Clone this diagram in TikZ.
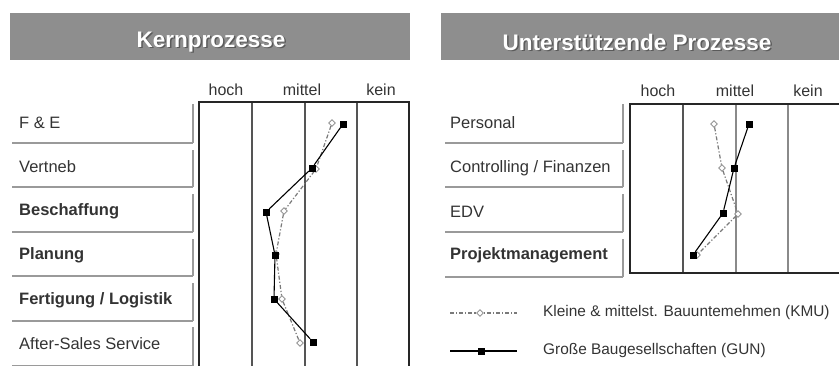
\documentclass[tikz,border=0pt]{standalone}
\usepackage{fontspec}
\setmainfont{Liberation Sans}
\usetikzlibrary{shapes.geometric}
\definecolor{hdr}{HTML}{8E8E8E}
\definecolor{hdrshadow}{HTML}{5A5A5A}
\definecolor{txt}{HTML}{333333}
\definecolor{boxline}{HTML}{9A9A9A}
\definecolor{gridin}{HTML}{555555}
\definecolor{gridlight}{HTML}{8A8A8A}
\definecolor{kmucol}{HTML}{7A7A7A}
\begin{document}
\begin{tikzpicture}[x=1pt,y=-1pt,
  hdrbar/.style={fill=hdr,draw=none},
  hdrtext/.style={text=white,font=\bfseries\fontsize{22.5}{25}\selectfont,inner sep=0},
  hdrshad/.style={text=hdrshadow,font=\bfseries\fontsize{22.5}{25}\selectfont,inner sep=0},
  collabel/.style={font=\fontsize{16}{18}\selectfont,text=txt,inner sep=0},
  rowlabel/.style={anchor=west,font=\fontsize{16.5}{19}\selectfont,text=txt,inner sep=0},
  rowbold/.style={anchor=west,font=\bfseries\fontsize{16.5}{19}\selectfont,text=txt,inner sep=0},
  legtext/.style={anchor=west,font=\fontsize{15.4}{18}\selectfont,text=txt,inner sep=0},
  boxedge/.style={draw=boxline,line width=1.6pt},
  gridout/.style={draw=black!85,line width=1.3pt},
  gridinner/.style={draw=gridin,line width=1.1pt},
  gridinlight/.style={draw=gridlight,line width=1.1pt},
  gun/.style={draw=black,fill=black,rectangle,minimum size=6pt,inner sep=0},
  kmu/.style={draw=kmucol!80,fill=white,diamond,minimum size=7pt,inner sep=0,line width=0.9pt},
  gunline/.style={draw=black,line width=1.1pt},
  kmuline/.style={draw=kmucol,line width=1.2pt,dash pattern=on 4pt off 2pt on 1.2pt off 2pt}
]
\useasboundingbox (0,0) rectangle (839,365);

% ---------- headers ----------
\fill[hdrbar] (10,13) rectangle (410,60);
\fill[hdrbar] (441,13) rectangle (839,60);
\node[hdrshad] (hk0) at (212.5,43.5) {Kernprozesse};
\node[hdrtext] (hk) at (211,42) {Kernprozesse};
\node[hdrshad] (hu0) at (638.5,43.5) {Unterstützende Prozesse};
\node[hdrtext] (hu) at (637,42) {Unterstützende Prozesse};

% ---------- left panel ----------
\node[collabel] (lc1) at (226,90) {hoch};
\node[collabel] (lc2) at (302,90) {mittel};
\node[collabel] (lc3) at (381,90) {kein};

\draw[gridinner] (252,102) -- (252,367);
\draw[gridinner] (305,102) -- (305,367);
\draw[gridinner] (357,102) -- (357,367);
\draw[gridout] (199,367) -- (199,102) -- (409,102) -- (409,367);

% row boxes
\foreach \ya/\yb in {104/143,150/187,194/232,239/276,283/321,327/366}{
  \draw[boxedge] (193,\ya) -- (193,\yb);
  \draw[boxedge] (12,\yb) -- (193,\yb);
}
\node[rowlabel] (r1) at (19,123) {F \& E};
\node[rowlabel] (r2) at (19,167) {Vertneb};
\node[rowbold]  (r3) at (19,211) {Beschaffung};
\node[rowbold]  (r4) at (19,255) {Planung};
\node[rowbold]  (r5) at (19,300) {Fertigung / Logistik};
\node[rowlabel] (r6) at (19,344) {After-Sales Service};

% KMU left
\node[kmu] (k1) at (332,123) {};
\node[kmu] (k2) at (316,169) {};
\node[kmu] (k3) at (284,211) {};
\node[kmu] (k4) at (276,254) {};
\node[kmu] (k5) at (282,299) {};
\node[kmu] (k6) at (300,343) {};
\draw[kmuline] (k1) -- (k2) -- (k3) -- (k4) -- (k5) -- (k6);

% GUN left
\node[gun] (g1) at (343,124) {};
\node[gun] (g2) at (312,168) {};
\node[gun] (g3) at (266,212) {};
\node[gun] (g4) at (275,255) {};
\node[gun] (g5) at (274,299) {};
\node[gun] (g6) at (313,342) {};
\draw[gunline] (g1) -- (g2) -- (g3) -- (g4) -- (g5) -- (g6);

% ---------- right panel ----------
\node[collabel] (rc1) at (658,91) {hoch};
\node[collabel] (rc2) at (735,91) {mittel};
\node[collabel] (rc3) at (808,91) {kein};

\draw[gridinner] (683,104) -- (683,273);
\draw[gridinlight] (736,104) -- (736,273);
\draw[gridinlight] (788,104) -- (788,273);
\draw[gridout] (842,273) -- (630,273) -- (630,104) -- (842,104);

\foreach \ya/\yb in {104/143,150/187,194/232,239/277}{
  \draw[boxedge] (623,\ya) -- (623,\yb);
  \draw[boxedge] (445,\yb) -- (623,\yb);
}
\node[rowlabel] (s1) at (450,123) {Personal};
\node[rowlabel] (s2) at (450,168) {Controlling / Finanzen};
\node[rowlabel] (s3) at (450,212) {EDV};
\node[rowbold]  (s4) at (450,255) {Projektmanagement};

% KMU right
\node[kmu] (m1) at (714,124) {};
\node[kmu] (m2) at (722,168) {};
\node[kmu] (m3) at (738,214) {};
\node[kmu] (m4) at (697,255) {};
\draw[kmuline] (m1) -- (m2) -- (m3) -- (m4);

% GUN right
\node[gun] (n1) at (749,124) {};
\node[gun] (n2) at (734,168) {};
\node[gun] (n3) at (723,213) {};
\node[gun] (n4) at (693,255) {};
\draw[gunline] (n1) -- (n2) -- (n3) -- (n4);

% ---------- legend ----------
\coordinate (la1) at (450,313);
\coordinate (lb1) at (517,313);
\draw[kmuline] (la1) -- (lb1);
\node[kmu] (lk) at (480,313) {};
\node[legtext] (lt1) at (543,313) {Kleine \& mittelst. Bauuntemehmen (KMU)};

\coordinate (la2) at (450,351);
\coordinate (lb2) at (517,351);
\draw[gunline] (la2) -- (lb2);
\node[gun] (lg) at (481,351) {};
\node[legtext] (lt2) at (543,351) {Große Baugesellschaften (GUN)};
\end{tikzpicture}
\end{document}
